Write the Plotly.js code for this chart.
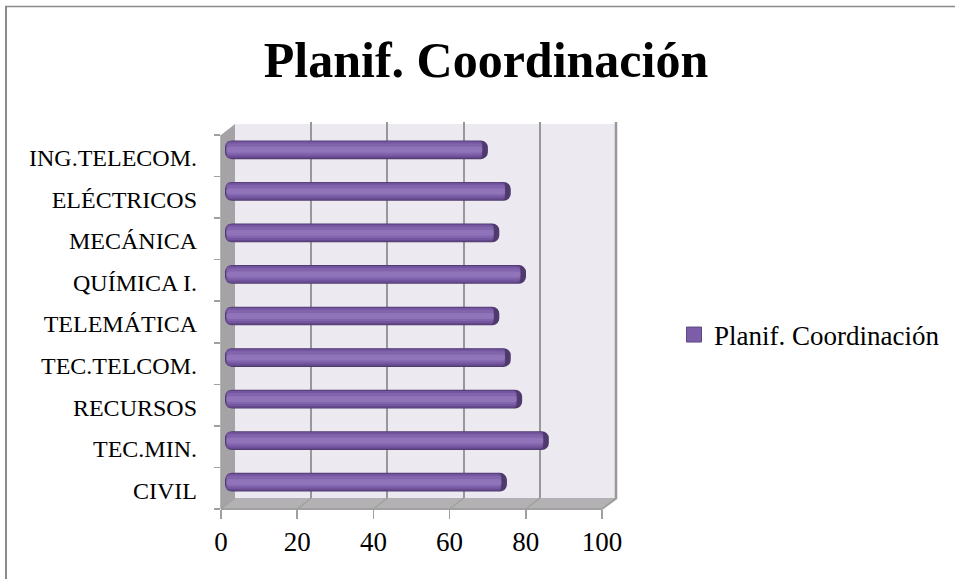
<!DOCTYPE html>
<html><head><meta charset="utf-8">
<script src="https://cdn.plot.ly/plotly-3.0.1.min.js"></script>
<style>html,body{margin:0;padding:0;background:#fff}#c{width:955px;height:579px}</style>
</head><body><div id="c"></div>
<script>
const categories=["CIVIL","TEC.MIN.","RECURSOS","TEC.TELCOM.","TELEMÁTICA","QUÍMICA I.","MECÁNICA","ELÉCTRICOS","ING.TELECOM."];
const values=[74,85,78,75,72,79,72,75,69];
const tickValues=[0,20,40,60,80,100];
const seriesName="Planif. Coordinación";
const W=955,H=579;
const fx=p=>p/W, fy=p=>1-p/H;
const FONT='"Liberation Serif",serif';
const bands=[[-0.225,0.45,'#4f3a6e'],[-0.205,0.415,'#63498a'],[-0.17,0.365,'#7456a0'],[-0.12,0.27,'#8264ad'],[-0.07,0.14,'#9074ba']];
const capTrim=1.5, capStart=0.4;
const traces=[];
traces.push({type:'scatter',mode:'markers',x:categories.map(()=>null),y:categories,xaxis:'x',yaxis:'y',name:seriesName,showlegend:true,
  marker:{symbol:'square',size:15,color:'#7b5ea7',line:{color:'#5f4785',width:1}},hoverinfo:'skip'});
traces.push({type:'scatter',x:[null],y:[null],xaxis:'x2',yaxis:'y3',showlegend:false,hoverinfo:'skip'});
bands.forEach((b,i)=>traces.push({
  type:'bar',orientation:'h',y:categories,
  x:i===0?values:values.map(v=>v-capTrim-capStart),
  base:i===0?0:capStart,
  yaxis:'y2',xaxis:'x3',name:seriesName,showlegend:false,
  width:b[1],offset:b[0],
  marker:{color:b[2],cornerradius:i===0?7:3,line:{width:0}},hoverinfo:'skip'
}));
const wall='#ece9f1', side='#a5a3a6', floor='#b3b1b4', edge='#a0a0a0';
const pxFront=v=>221+v*3.81, pxBack=v=>235+v*3.81;
const shapes=[
 {type:'line',xref:'paper',yref:'paper',x0:fx(6),x1:fx(6),y0:fy(6),y1:fy(579),line:{color:'#8a8a8a',width:2},layer:'below'},
 {type:'line',xref:'paper',yref:'paper',x0:fx(5),x1:fx(955),y0:fy(6.5),y1:fy(6.5),line:{color:'#8a8a8a',width:1.5},layer:'below'},
 {type:'rect',xref:'paper',yref:'paper',x0:fx(235),x1:fx(616),y0:fy(124),y1:fy(498),line:{width:0},fillcolor:wall,layer:'below'},
 {type:'path',xref:'paper',yref:'paper',path:`M ${fx(221)} ${fy(135)} L ${fx(235)} ${fy(124)} L ${fx(235)} ${fy(498)} L ${fx(221)} ${fy(509)} Z`,line:{width:0},fillcolor:side,layer:'below'},
 {type:'path',xref:'paper',yref:'paper',path:`M ${fx(221)} ${fy(509)} L ${fx(235)} ${fy(498)} L ${fx(617)} ${fy(498)} L ${fx(602)} ${fy(509)} Z`,line:{width:0},fillcolor:floor,layer:'below'},
 {type:'line',xref:'paper',yref:'paper',x0:fx(616),x1:fx(616),y0:fy(122),y1:fy(498),line:{color:'#989898',width:2.5},layer:'below'},
 {type:'line',xref:'paper',yref:'paper',x0:fx(602),x1:fx(617),y0:fy(509),y1:fy(498),line:{color:edge,width:2},layer:'below'},
 {type:'line',xref:'paper',yref:'paper',x0:fx(221),x1:fx(602),y0:fy(509),y1:fy(509),line:{color:edge,width:2},layer:'below'},
 {type:'line',xref:'paper',yref:'paper',x0:fx(221),x1:fx(221),y0:fy(135),y1:fy(509),line:{color:edge,width:1.5},layer:'below'}
];
tickValues.forEach(v=>shapes.push({type:'line',xref:'paper',yref:'paper',x0:fx(pxFront(v)),x1:fx(pxBack(v)),y0:fy(509),y1:fy(498),line:{color:edge,width:1.5},layer:'below'}));
const hidden={range:[0,100],showgrid:false,showticklabels:false,ticks:'',showline:false,zeroline:false};
const layout={
  width:W,height:H,margin:{l:0,r:0,t:0,b:0},paper_bgcolor:'#fff',plot_bgcolor:'rgba(0,0,0,0)',
  font:{family:FONT,color:'#000'},barmode:'overlay',
  title:{text:'<b>Planif. Coordinación</b>',x:486/W,xanchor:'center',y:1-59/H,yanchor:'middle',font:{family:FONT,size:50,color:'#000'}},
  xaxis:{domain:[fx(221),fx(602)],range:[0,100],tickmode:'array',tickvals:tickValues,ticks:'outside',ticklen:9,tickcolor:edge,tickwidth:1.5,
    showgrid:false,zeroline:false,showline:false,tickfont:{size:27,family:FONT},anchor:'y'},
  xaxis2:Object.assign({},hidden,{domain:[fx(235),fx(616)],anchor:'y3',tickmode:'array',tickvals:tickValues,showgrid:true,gridcolor:'#989898',gridwidth:2}),
  xaxis3:Object.assign({domain:[fx(225),fx(606)],anchor:'y2'},hidden),
  yaxis:{domain:[fy(509),fy(135)],type:'category',categoryorder:'array',categoryarray:categories,range:[-0.5,8.5],anchor:'x',
    tickmode:'array',tickvals:categories,tickson:'boundaries',ticks:'outside',ticklen:6,tickcolor:edge,tickwidth:1.5,showgrid:false,zeroline:false,showline:false,
    ticklabelstandoff:23,ticklabelshift:2,tickfont:{size:24,family:FONT}},
  yaxis2:{domain:[fy(503),fy(129)],type:'category',categoryorder:'array',categoryarray:categories,range:[-0.5,8.5],anchor:'x3',
    showgrid:false,showticklabels:false,ticks:'',showline:false,zeroline:false},
  yaxis3:{domain:[fy(498),fy(122)],range:[0,1],anchor:'x2',showgrid:false,showticklabels:false,ticks:'',showline:false,zeroline:false},
  legend:{x:674/W,xanchor:'left',y:1-335/H,yanchor:'middle',font:{size:27,family:FONT},bgcolor:'rgba(0,0,0,0)',itemsizing:'trace'},
  shapes
};
Plotly.newPlot('c',traces,layout,{displayModeBar:false,staticPlot:true});
</script></body></html>
